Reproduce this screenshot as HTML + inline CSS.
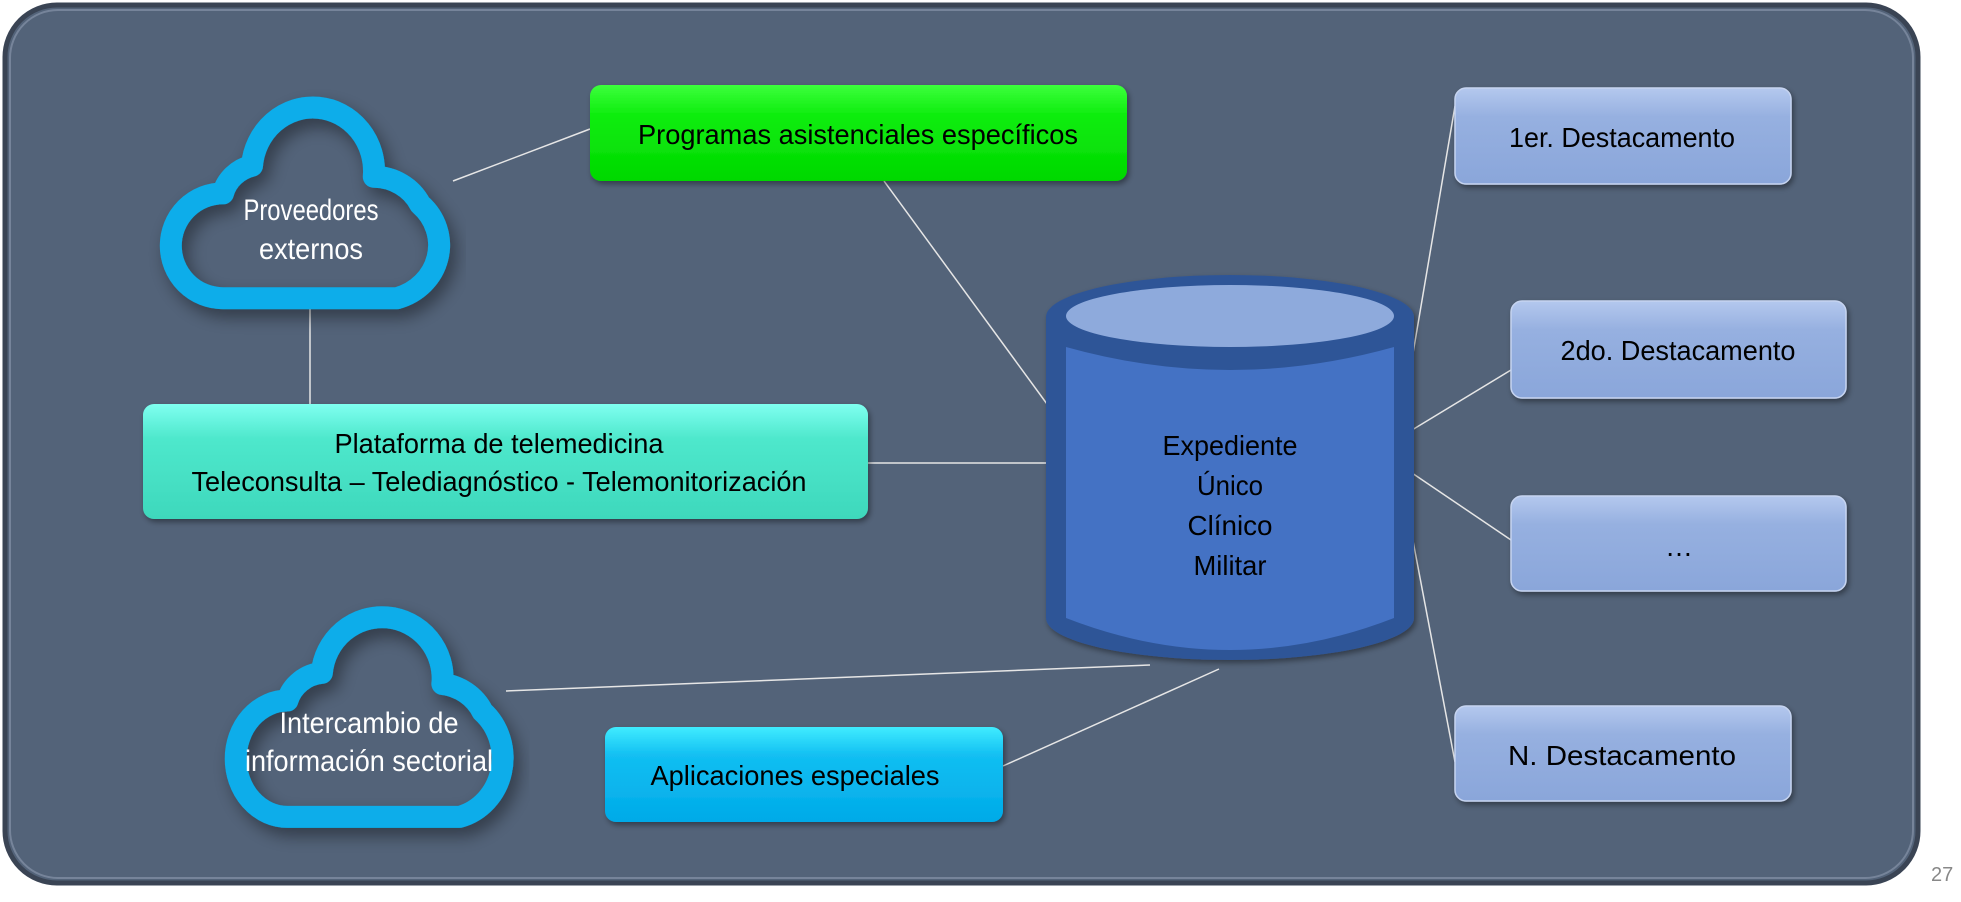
<!DOCTYPE html>
<html><head><meta charset="utf-8"><style>
html,body{margin:0;padding:0;background:#fff;width:1961px;height:902px;overflow:hidden}
svg text{font-family:"Liberation Sans",sans-serif}
</style></head><body>
<svg width="1961" height="902" viewBox="0 0 1961 902" xmlns="http://www.w3.org/2000/svg">
<defs>
<linearGradient id="gG" x1="0" y1="0" x2="0" y2="1"><stop offset="0" stop-color="#3cff3c"/><stop offset=".3" stop-color="#10ee10"/><stop offset="1" stop-color="#00d800"/></linearGradient>
<linearGradient id="gT" x1="0" y1="0" x2="0" y2="1"><stop offset="0" stop-color="#7ffff0"/><stop offset=".3" stop-color="#4ee8cc"/><stop offset="1" stop-color="#3ed8bc"/></linearGradient>
<linearGradient id="gB" x1="0" y1="0" x2="0" y2="1"><stop offset="0" stop-color="#40ecff"/><stop offset=".3" stop-color="#12bff2"/><stop offset="1" stop-color="#00aae8"/></linearGradient>
<linearGradient id="gD" x1="0" y1="0" x2="0" y2="1"><stop offset="0" stop-color="#b4c8ee"/><stop offset=".3" stop-color="#96b0e0"/><stop offset="1" stop-color="#8aa6da"/></linearGradient>
<filter id="sh" x="-10%" y="-10%" width="120%" height="130%"><feDropShadow dx="2" dy="3" stdDeviation="3" flood-color="#000" flood-opacity=".4"/></filter>
</defs>
<rect x="5" y="5" width="1913" height="878" rx="52" fill="#536379" stroke="#3a4454" stroke-width="5"/>
<rect x="10" y="10" width="1903" height="868" rx="48" fill="none" stroke="#8d9bb0" stroke-width="2" opacity=".6"/>
<text x="1931" y="881" font-size="20" fill="#888">27</text>
<g stroke="#e6e6e6" stroke-width="1.5" fill="none">
<line x1="453" y1="181" x2="590" y2="129"/>
<line x1="310" y1="309" x2="310" y2="404"/>
<line x1="884" y1="181" x2="1047" y2="404"/>
<line x1="868" y1="463" x2="1047" y2="463"/>
<line x1="506" y1="691" x2="1150" y2="665"/>
<line x1="1003" y1="766" x2="1219" y2="669"/>
<line x1="1410" y1="371" x2="1455" y2="106"/>
<line x1="1412" y1="430" x2="1511" y2="370"/>
<line x1="1412" y1="473" x2="1511" y2="540"/>
<line x1="1410" y1="525" x2="1455" y2="762"/>
</g>
<!-- clouds -->
<g transform="translate(165,105) scale(2.9,2.76)" filter="url(#sh)">
<path d="M20,70 H80 A20,20 0 0 0 88,36 A18,18 0 0 0 72,26 A21,23 0 0 0 30,22 A14,14 0 0 0 20,32 A18,19 0 0 0 20,70 Z" fill="none" stroke="#08adea" stroke-width="22" vector-effect="non-scaling-stroke" stroke-linejoin="round"/>
</g>
<text x="311" y="220" font-size="30" fill="#fff" text-anchor="middle" textLength="135" lengthAdjust="spacingAndGlyphs">Proveedores</text>
<text x="311" y="259" font-size="30" fill="#fff" text-anchor="middle" textLength="104" lengthAdjust="spacingAndGlyphs">externos</text>
<g transform="translate(230,623) scale(2.87,2.77)" filter="url(#sh)">
<path d="M20,70 H80 A20,22 0 0 0 88,32 A18,18 0 0 0 74,22 A21,22 0 0 0 32,18 A14,14 0 0 0 20,28 A18,21 0 0 0 20,70 Z" fill="none" stroke="#08adea" stroke-width="22" vector-effect="non-scaling-stroke" stroke-linejoin="round"/>
</g>
<text x="369" y="733" font-size="30" fill="#fff" text-anchor="middle" textLength="179" lengthAdjust="spacingAndGlyphs">Intercambio de</text>
<text x="369" y="771" font-size="30" fill="#fff" text-anchor="middle" textLength="248" lengthAdjust="spacingAndGlyphs">información sectorial</text>
<!-- boxes -->
<g filter="url(#sh)">
<rect x="590" y="85" width="537" height="96" rx="11" fill="url(#gG)"/>
<rect x="143" y="404" width="725" height="115" rx="11" fill="url(#gT)"/>
<rect x="605" y="727" width="398" height="95" rx="11" fill="url(#gB)"/>
<rect x="1455" y="88" width="336" height="96" rx="11" fill="url(#gD)" stroke="#c6d4f0" stroke-width="1.5"/>
<rect x="1511" y="301" width="335" height="97" rx="11" fill="url(#gD)" stroke="#c6d4f0" stroke-width="1.5"/>
<rect x="1511" y="496" width="335" height="95" rx="11" fill="url(#gD)" stroke="#c6d4f0" stroke-width="1.5"/>
<rect x="1455" y="706" width="336" height="95" rx="11" fill="url(#gD)" stroke="#c6d4f0" stroke-width="1.5"/>
</g>
<g font-size="28" fill="#000" text-anchor="middle">
<text x="858" y="144" textLength="440" lengthAdjust="spacingAndGlyphs">Programas asistenciales específicos</text>
<text x="499" y="453" textLength="329" lengthAdjust="spacingAndGlyphs">Plataforma de telemedicina</text>
<text x="499" y="491" textLength="615" lengthAdjust="spacingAndGlyphs">Teleconsulta – Telediagnóstico - Telemonitorización</text>
<text x="795" y="785" textLength="289" lengthAdjust="spacingAndGlyphs">Aplicaciones especiales</text>
<text x="1622" y="147" textLength="226" lengthAdjust="spacingAndGlyphs">1er. Destacamento</text>
<text x="1678" y="360" textLength="235" lengthAdjust="spacingAndGlyphs">2do. Destacamento</text>
<text x="1679" y="556">…</text>
<text x="1622" y="765" textLength="228" lengthAdjust="spacingAndGlyphs">N. Destacamento</text>
</g>
<!-- cylinder -->
<g filter="url(#sh)">
<path d="M1046,317 A184,42 0 0 1 1414,317 V618 A184,42 0 0 1 1046,618 Z" fill="#2f5597"/>
</g>
<ellipse cx="1230" cy="316" rx="164" ry="31" fill="#8eaadc"/>
<path d="M1066,347 Q1230,393 1394,347 V618 Q1230,682 1066,618 Z" fill="#4472c4"/>
<g font-size="28" fill="#000" text-anchor="middle">
<text x="1230" y="455" textLength="135" lengthAdjust="spacingAndGlyphs">Expediente</text>
<text x="1230" y="495" textLength="66" lengthAdjust="spacingAndGlyphs">Único</text>
<text x="1230" y="535" textLength="85" lengthAdjust="spacingAndGlyphs">Clínico</text>
<text x="1230" y="575" textLength="73" lengthAdjust="spacingAndGlyphs">Militar</text>
</g>
</svg>
</body></html>
